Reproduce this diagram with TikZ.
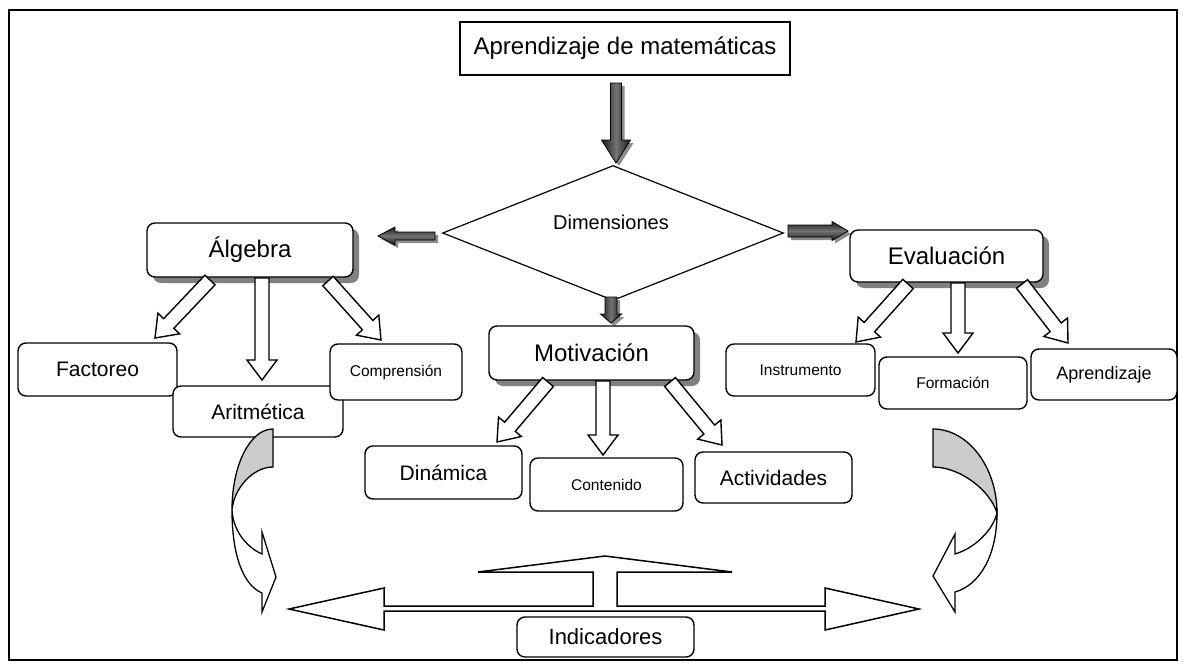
\documentclass[tikz,border=0pt]{standalone}
\usepackage{fontspec}
\setmainfont{Liberation Sans}
\usetikzlibrary{calc,shapes.geometric,shadows}

% block arrow from a tail point to a tip point:
% #1 style, #2 tail, #3 tip, #4 half shaft width, #5 half head width, #6 head length
\newcommand{\fatarrow}[6]{%
  \coordinate (fa-h) at ($(#3)!#6!(#2)$);
  \path[#1] ($(#2)!#4!90:(#3)$) -- ($(fa-h)!#4!90:(#3)$) -- ($(fa-h)!#5!90:(#3)$) -- (#3)
    -- ($(fa-h)!#5!-90:(#3)$) -- ($(fa-h)!#4!-90:(#3)$) -- ($(#2)!#4!-90:(#3)$) -- cycle;
}
% dark block arrow with a grey drop shadow
\newcommand{\darkarrow}[6]{%
  \coordinate (da-st) at ($(#2)+(3,3)$);
  \coordinate (da-sp) at ($(#3)+(3,3)$);
  \fatarrow{fill=black!45}{da-st}{da-sp}{#4}{#5}{#6}
  \fatarrow{#1}{#2}{#3}{#4}{#5}{#6}
}

\tikzset{
  card/.style={draw, line width=1.4pt, rounded corners=8pt, fill=white, inner sep=0pt, align=center},
  shadowcard/.style={card, drop shadow={shadow xshift=6pt, shadow yshift=-6pt, fill=black!50, opacity=1}},
  titlebox/.style={draw, line width=1.2pt, fill=white, inner sep=0pt},
  bigtext/.style={font=\fontsize{24}{28}\selectfont},
  midtext/.style={font=\fontsize{21}{25}\selectfont},
  smalltext/.style={font=\fontsize{15.5}{18}\selectfont},
  hollow/.style={draw, fill=white, line width=1.4pt, line join=miter},
  darkv/.style={draw=black, line width=0.8pt, left color=black!90, right color=black!90, middle color=black!55},
  darkh/.style={draw=black, line width=0.8pt, top color=black!90, bottom color=black!90, middle color=black!55},
  curvegray/.style={draw, fill=black!20, line width=1.3pt, line join=miter},
  curvewhite/.style={draw, fill=white, line width=1.3pt, line join=miter},
}

\begin{document}
\begin{tikzpicture}[x=1pt,y=-1pt]
\useasboundingbox (0,0) rectangle (1183,664);
% outer frame
\draw[line width=2.5pt] (9,10) rectangle (1177,660);

% title and dimensions
\node[titlebox, bigtext, minimum width=330pt, minimum height=53pt] (top) at (625,48.5) {Aprendizaje de matemáticas};
\node[draw, diamond, line width=1.2pt, minimum width=341pt, minimum height=135pt, inner sep=0pt] (dim) at (613,233) {};
\node[font=\fontsize{20}{24}\selectfont, inner sep=0pt] (dimtext) at (611,222) {Dimensiones};

% dark arrows out of the title and the diamond
\coordinate (d1t) at (616,83);
\coordinate (d1p) at (616,163);
\coordinate (d2t) at (435,236);
\coordinate (d2p) at (378,236);
\coordinate (d3t) at (788,231);
\coordinate (d3p) at (848,231);
\coordinate (d4t) at (611,297);
\coordinate (d4p) at (611,323);
\darkarrow{darkv}{d1t}{d1p}{5.5pt}{14.5pt}{23pt}
\darkarrow{darkh}{d2t}{d2p}{4pt}{9pt}{17pt}
\darkarrow{darkh}{d3t}{d3p}{6pt}{9.5pt}{16pt}
\darkarrow{darkv}{d4t}{d4p}{6pt}{10.5pt}{9pt}

% the three dimensions
\node[shadowcard, bigtext, minimum width=206pt, minimum height=54pt] (alg) at (250,250) {Álgebra};
\node[shadowcard, bigtext, minimum width=193pt, minimum height=52pt] (eva) at (946.5,256) {Evaluación};
\node[shadowcard, bigtext, minimum width=205pt, minimum height=54pt] (mot) at (591.5,353) {Motivación};

% Álgebra branch
\node[card, midtext, minimum width=159pt, minimum height=53pt] (fac) at (97.5,369.5) {Factoreo};
\node[card, midtext, minimum width=170pt, minimum height=51pt] (ari) at (258,411.5) {Aritmética};
\node[card, smalltext, minimum width=132pt, minimum height=56pt] (com) at (396,372) {Comprensión};

% Motivación branch
\node[card, midtext, minimum width=157pt, minimum height=53pt] (din) at (443.5,472.5) {Dinámica};
\node[card, smalltext, minimum width=153pt, minimum height=53pt] (con) at (606.5,484.5) {Contenido};
\node[card, midtext, minimum width=157pt, minimum height=51pt] (act) at (773.5,477.5) {Actividades};

% Evaluación branch
\node[card, smalltext, minimum width=149pt, minimum height=52pt] (ins) at (800.5,370) {Instrumento};
\node[card, smalltext, minimum width=148pt, minimum height=52pt] (for) at (953,383) {Formación};
\node[card, font=\fontsize{18}{22}\selectfont, minimum width=146pt, minimum height=51pt] (apr) at (1104,374.5) {Aprendizaje};

% hollow arrows below each dimension
\coordinate (a1t) at (210,280);
\coordinate (a1p) at (155,338);
\coordinate (a2t) at (262,278);
\coordinate (a2p) at (262,380);
\coordinate (a3t) at (328,281);
\coordinate (a3p) at (381,340);
\fatarrow{hollow}{a1t}{a1p}{7pt}{15pt}{20pt}
\fatarrow{hollow}{a2t}{a2p}{7pt}{15pt}{20pt}
\fatarrow{hollow}{a3t}{a3p}{7pt}{15pt}{20pt}

\coordinate (m1t) at (548,382);
\coordinate (m1p) at (497,442);
\coordinate (m2t) at (603,381);
\coordinate (m2p) at (603,455);
\coordinate (m3t) at (670,382);
\coordinate (m3p) at (722,445);
\fatarrow{hollow}{m1t}{m1p}{7pt}{15pt}{20pt}
\fatarrow{hollow}{m2t}{m2p}{7pt}{15pt}{20pt}
\fatarrow{hollow}{m3t}{m3p}{7pt}{15pt}{20pt}

\coordinate (e1t) at (908,284);
\coordinate (e1p) at (856,342);
\coordinate (e2t) at (958,283);
\coordinate (e2p) at (958,353);
\coordinate (e3t) at (1022,284);
\coordinate (e3p) at (1068,343);
\fatarrow{hollow}{e1t}{e1p}{7pt}{15pt}{20pt}
\fatarrow{hollow}{e2t}{e2p}{7pt}{15pt}{20pt}
\fatarrow{hollow}{e3t}{e3p}{7pt}{15pt}{20pt}

% curved arrows down to the indicators
\draw[curvegray] (273,429) .. controls (250,429) and (232,465) .. (232,510)
  .. controls (234,488) and (253,467) .. (273,467) -- cycle;
\draw[curvewhite] (232,510) .. controls (232,555) and (243,585) .. (262,593)
  -- (262,612) -- (276,577) -- (262,532) -- (262,554)
  .. controls (246,547) and (233,530) .. (232,510) -- cycle;

\draw[curvegray] (933,429) .. controls (968,429) and (997,467) .. (997,513)
  .. controls (990,490) and (960,467) .. (933,467) -- cycle;
\draw[curvewhite] (997,513) .. controls (997,555) and (980,585) .. (955,592)
  -- (955,612) -- (933,576) -- (955,534) -- (955,554)
  .. controls (975,548) and (993,530) .. (997,513) -- cycle;

% three-way arrow over the indicators
\draw[hollow, line width=1.5pt] (289,609) -- (384,588) -- (384,606) -- (593,606) -- (593,572)
  -- (478,572) -- (605,556) -- (732,572) -- (617,572) -- (617,606) -- (825,606) -- (825,588)
  -- (919,609) -- (825,630) -- (825,611) -- (384,611) -- (384,630) -- cycle;

\node[card, font=\fontsize{22}{26}\selectfont, minimum width=177pt, minimum height=40pt] (ind) at (605.5,637) {Indicadores};
\end{tikzpicture}
\end{document}
